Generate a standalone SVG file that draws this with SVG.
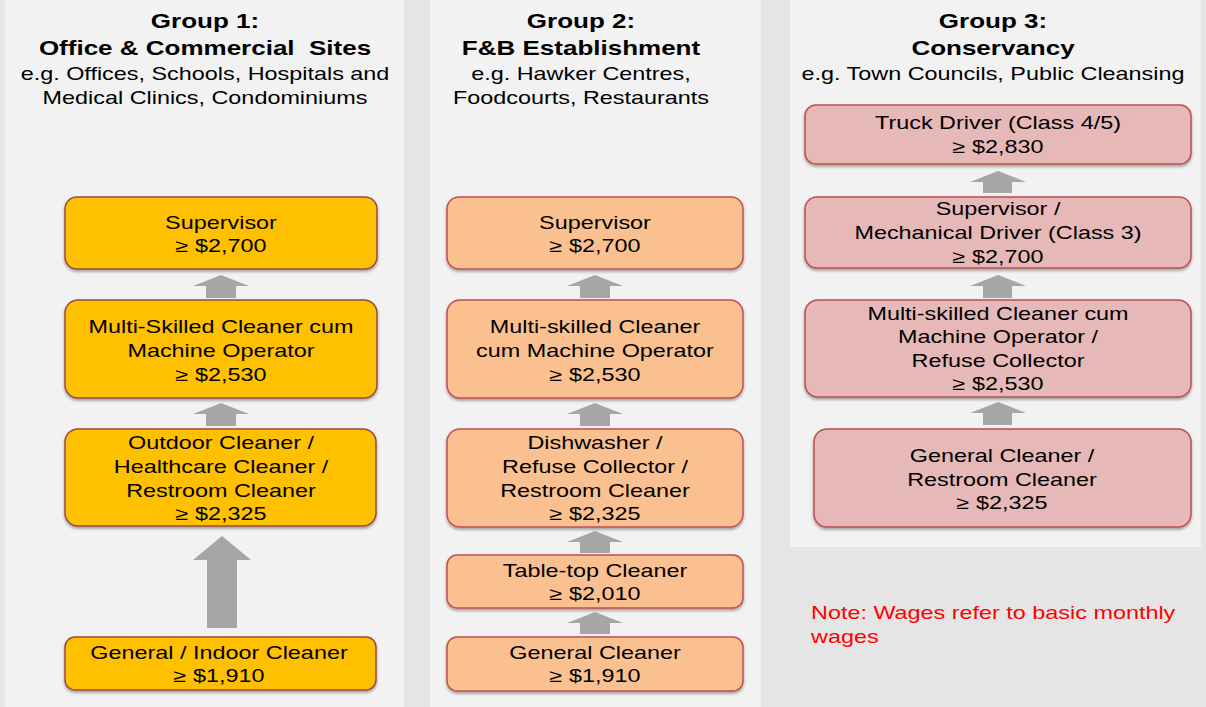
<svg xmlns="http://www.w3.org/2000/svg" width="1206" height="707" viewBox="0 0 1206 707">
<defs>
<filter id="sh" x="-5%" y="-10%" width="110%" height="130%">
<feDropShadow dx="0" dy="2" stdDeviation="1.5" flood-color="#000" flood-opacity="0.35"/>
</filter>
<style>
text{font-family:"Liberation Sans",Arial,sans-serif;text-anchor:middle;fill:#000}
.t{font-size:20px;font-weight:bold}
.s{font-size:18px}
.b{font-size:18px}
.note{font-size:18px;fill:#ff0000;text-anchor:start}
.panel{fill:#f2f2f2}
.g1{fill:#ffc000;stroke:#9b4a3c;stroke-width:1.5;filter:url(#sh)}
.g2{fill:#fac090;stroke:#c0504d;stroke-width:1.5;filter:url(#sh)}
.g3{fill:#e6b9b8;stroke:#b9504d;stroke-width:1.5;filter:url(#sh)}
.arr{fill:#a6a6a6}
</style>
</defs>
<rect x="0" y="0" width="1206" height="707" fill="#e5e5e5"/>

<g id="panel1">
<rect class="panel" x="5" y="0" width="399" height="707"/>
<text class="t" transform="translate(205,0) scale(1.3,1)"><tspan x="0" y="28">Group 1:</tspan><tspan x="0" y="55">Office &amp; Commercial&#160; Sites</tspan></text>
<text class="s" transform="translate(205,0) scale(1.3,1)"><tspan x="0" y="80">e.g. Offices, Schools, Hospitals and</tspan><tspan x="0" y="104">Medical Clinics, Condominiums</tspan></text>
</g>
<g id="panel2">
<rect class="panel" x="430" y="0" width="331" height="707"/>
<text class="t" transform="translate(581,0) scale(1.3,1)"><tspan x="0" y="28">Group 2:</tspan><tspan x="0" y="55">F&amp;B Establishment</tspan></text>
<text class="s" transform="translate(581,0) scale(1.3,1)"><tspan x="0" y="80">e.g. Hawker Centres,</tspan><tspan x="0" y="104">Foodcourts, Restaurants</tspan></text>
</g>
<g id="panel3">
<rect class="panel" x="790" y="0" width="411" height="547"/>
<text class="t" transform="translate(993,0) scale(1.3,1)"><tspan x="0" y="28">Group 3:</tspan><tspan x="0" y="55">Conservancy</tspan></text>
<text class="s" transform="translate(993,0) scale(1.3,1)"><tspan x="0" y="80">e.g. Town Councils, Public Cleansing</tspan></text>
</g>

<g id="connectors">
<polygon class="arr" points="221,275 249,286 236,286 236,298 206,298 206,286 193,286"/>
<polygon class="arr" points="221,403 249,414 236,414 236,426 206,426 206,414 193,414"/>
<polygon class="arr" points="222,536 251,560 237,560 237,628 207,628 207,560 193,560"/>
<polygon class="arr" points="595,275 623,286 610,286 610,298 580,298 580,286 567,286"/>
<polygon class="arr" points="595,403 623,414 610,414 610,426 580,426 580,414 567,414"/>
<polygon class="arr" points="595,531 623,542 610,542 610,553 580,553 580,542 567,542"/>
<polygon class="arr" points="595,612 623,623 610,623 610,634 580,634 580,623 567,623"/>
<polygon class="arr" points="998,171 1026,182 1012,182 1012,193 983,193 983,182 970,182"/>
<polygon class="arr" points="998,275 1026,286 1012,286 1012,298 983,298 983,286 970,286"/>
<polygon class="arr" points="998,402 1026,413 1012,413 1012,425 983,425 983,413 970,413"/>
</g>

<g id="g1-supervisor">
<rect class="g1" x="65" y="197" width="312" height="72" rx="12"/>
<text class="b" transform="translate(221,0) scale(1.3,1)"><tspan x="0" y="229">Supervisor</tspan><tspan x="0" y="252">≥ $2,700</tspan></text>
</g>
<g id="g1-multiskilled">
<rect class="g1" x="65" y="300" width="312" height="98" rx="13"/>
<text class="b" transform="translate(221,0) scale(1.3,1)"><tspan x="0" y="333">Multi-Skilled Cleaner cum</tspan><tspan x="0" y="357">Machine Operator</tspan><tspan x="0" y="381">≥ $2,530</tspan></text>
</g>
<g id="g1-outdoor">
<rect class="g1" x="65" y="429" width="311" height="97" rx="13"/>
<text class="b" transform="translate(221,0) scale(1.3,1)"><tspan x="0" y="449">Outdoor Cleaner /</tspan><tspan x="0" y="473">Healthcare Cleaner /</tspan><tspan x="0" y="497">Restroom Cleaner</tspan><tspan x="0" y="520">≥ $2,325</tspan></text>
</g>
<g id="g1-general">
<rect class="g1" x="65" y="637" width="311" height="53" rx="10"/>
<text class="b" transform="translate(219,0) scale(1.3,1)"><tspan x="0" y="659">General / Indoor Cleaner</tspan><tspan x="0" y="682">≥ $1,910</tspan></text>
</g>

<g id="g2-supervisor">
<rect class="g2" x="447" y="197" width="296" height="72" rx="12"/>
<text class="b" transform="translate(595,0) scale(1.3,1)"><tspan x="0" y="229">Supervisor</tspan><tspan x="0" y="252">≥ $2,700</tspan></text>
</g>
<g id="g2-multiskilled">
<rect class="g2" x="447" y="300" width="296" height="98" rx="13"/>
<text class="b" transform="translate(595,0) scale(1.3,1)"><tspan x="0" y="333">Multi-skilled Cleaner</tspan><tspan x="0" y="357">cum Machine Operator</tspan><tspan x="0" y="381">≥ $2,530</tspan></text>
</g>
<g id="g2-dishwasher">
<rect class="g2" x="447" y="429" width="296" height="98" rx="13"/>
<text class="b" transform="translate(595,0) scale(1.3,1)"><tspan x="0" y="449">Dishwasher /</tspan><tspan x="0" y="473">Refuse Collector /</tspan><tspan x="0" y="497">Restroom Cleaner</tspan><tspan x="0" y="520">≥ $2,325</tspan></text>
</g>
<g id="g2-tabletop">
<rect class="g2" x="447" y="555" width="296" height="53" rx="10"/>
<text class="b" transform="translate(595,0) scale(1.3,1)"><tspan x="0" y="577">Table-top Cleaner</tspan><tspan x="0" y="600">≥ $2,010</tspan></text>
</g>
<g id="g2-general">
<rect class="g2" x="447" y="637" width="296" height="54" rx="10"/>
<text class="b" transform="translate(595,0) scale(1.3,1)"><tspan x="0" y="659">General Cleaner</tspan><tspan x="0" y="682">≥ $1,910</tspan></text>
</g>

<g id="g3-truck">
<rect class="g3" x="805" y="105" width="386" height="59" rx="11"/>
<text class="b" transform="translate(998,0) scale(1.3,1)"><tspan x="0" y="129">Truck Driver (Class 4/5)</tspan><tspan x="0" y="153">≥ $2,830</tspan></text>
</g>
<g id="g3-supervisor">
<rect class="g3" x="805" y="197" width="386" height="71" rx="12"/>
<text class="b" transform="translate(998,0) scale(1.3,1)"><tspan x="0" y="215">Supervisor /</tspan><tspan x="0" y="239">Mechanical Driver (Class 3)</tspan><tspan x="0" y="263">≥ $2,700</tspan></text>
</g>
<g id="g3-multiskilled">
<rect class="g3" x="805" y="300" width="386" height="97" rx="13"/>
<text class="b" transform="translate(998,0) scale(1.3,1)"><tspan x="0" y="320">Multi-skilled Cleaner cum</tspan><tspan x="0" y="343">Machine Operator /</tspan><tspan x="0" y="367">Refuse Collector</tspan><tspan x="0" y="390">≥ $2,530</tspan></text>
</g>
<g id="g3-general">
<rect class="g3" x="814" y="429" width="377" height="98" rx="13"/>
<text class="b" transform="translate(1002,0) scale(1.3,1)"><tspan x="0" y="462">General Cleaner /</tspan><tspan x="0" y="486">Restroom Cleaner</tspan><tspan x="0" y="509">≥ $2,325</tspan></text>
</g>

<g id="note">
<text class="note" transform="translate(811,0) scale(1.3,1)"><tspan x="0" y="619">Note: Wages refer to basic monthly</tspan><tspan x="0" y="643">wages</tspan></text>
</g>
</svg>
